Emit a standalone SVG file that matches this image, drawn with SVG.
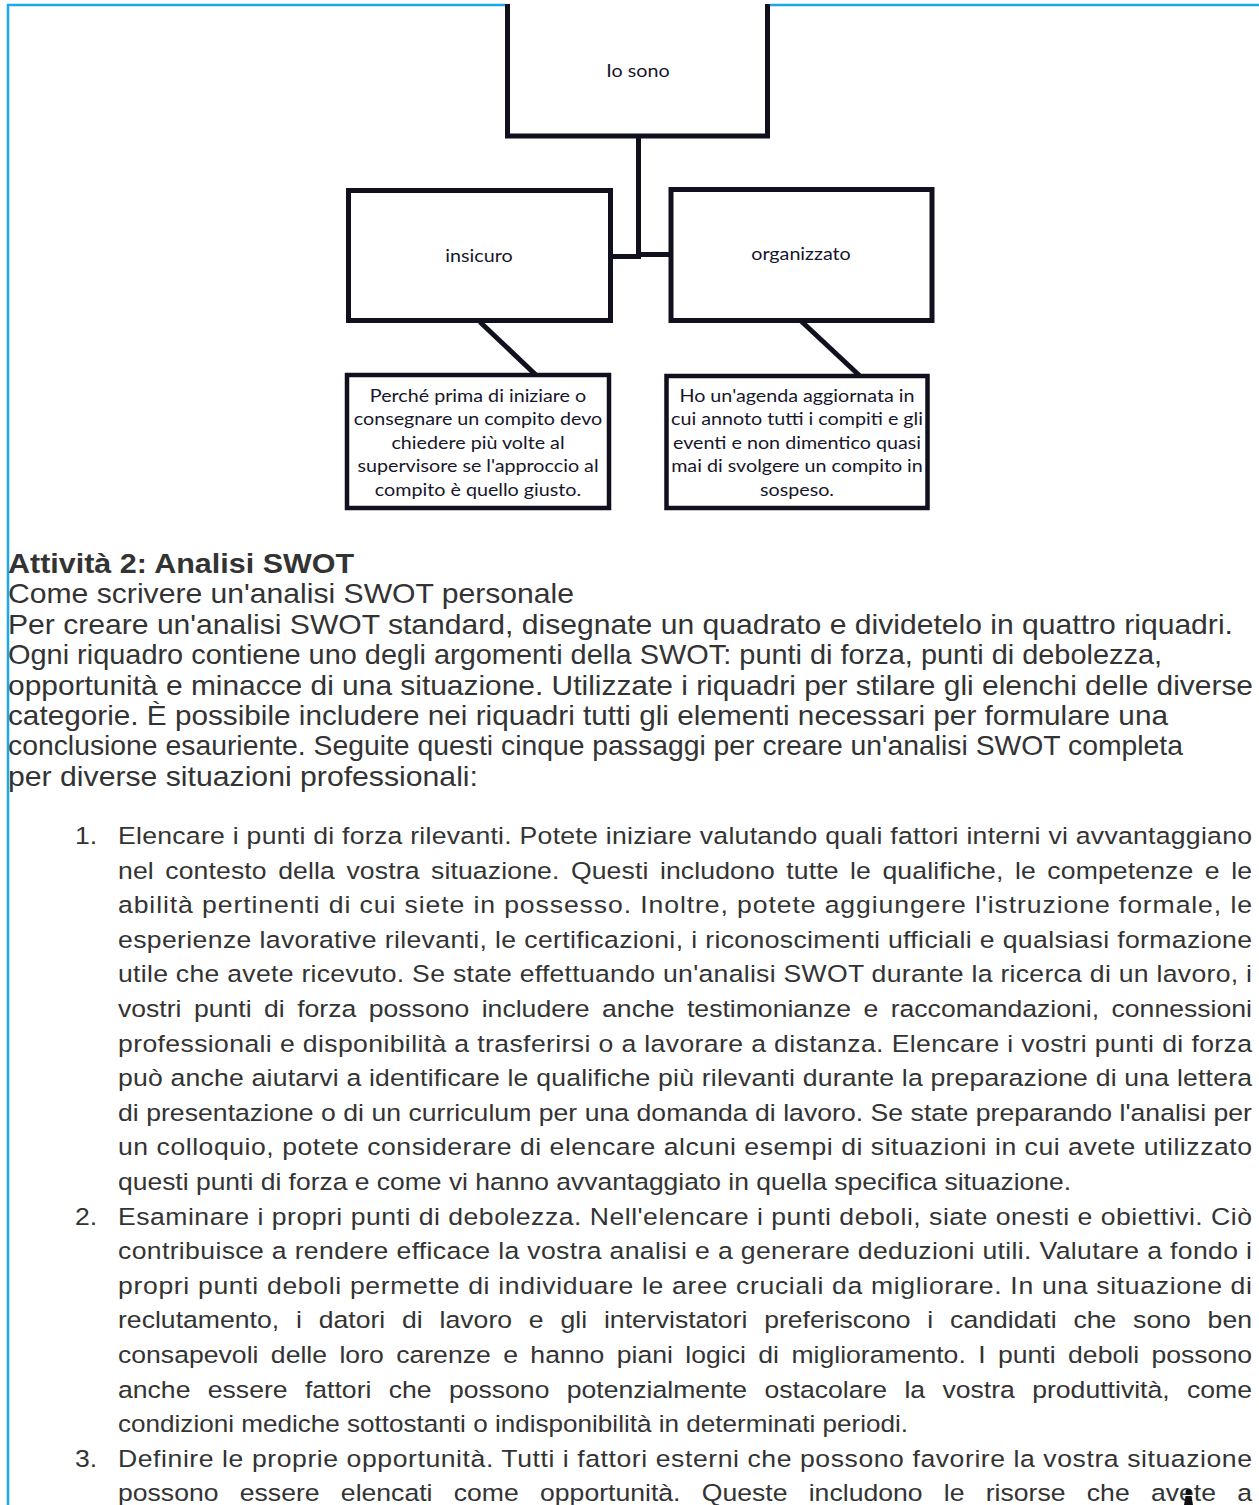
<svg xmlns="http://www.w3.org/2000/svg" width="1259" height="1505" viewBox="0 0 1259 1505">
<style>
.bg{fill:#ffffff}
.border{stroke:#1aa8ec;stroke-width:2.5;fill:none}
.bx{fill:#ffffff;stroke:#10101f;stroke-width:5}
.ln{stroke:#10101f;stroke-width:5;fill:none}
.dt{font-family:Lato,"Noto Sans",sans-serif;font-size:17.6px;fill:#16162a;text-anchor:middle}
.t{font-family:"Liberation Sans",Arial,sans-serif;fill:#333333}
.p{font-size:26.8px}
.h{font-size:27.1px;font-weight:bold}
.li{font-size:23.75px}
</style>
<rect class="bg" x="0" y="0" width="1259" height="1505"/>
<g id="page-border">
<line class="border" x1="8" y1="4" x2="8" y2="1505"/>
<line class="border" x1="7" y1="5" x2="1259" y2="5"/>
</g>
<g id="connectors">
<line class="ln" x1="638.5" y1="136" x2="638.5" y2="259"/>
<line class="ln" x1="611" y1="256.5" x2="641" y2="256.5"/>
<line class="ln" x1="636" y1="254.5" x2="670" y2="254.5"/>
<line class="ln" x1="480" y1="322" x2="537" y2="376"/>
<line class="ln" x1="800" y1="320" x2="861" y2="377"/>
</g>
<g id="node-io-sono">
<rect x="505" y="3" width="265" height="6" fill="#ffffff"/>
<path class="bx" d="M507.5,4 V136 H767.5 V4"/>
<text class="dt" transform="translate(638,76.5) scale(1.12,1)">Io sono</text>
</g>
<g id="node-insicuro">
<rect class="bx" x="348.5" y="190.5" width="262" height="130"/>
<text class="dt" transform="translate(479,261.5) scale(1.12,1)">insicuro</text>
</g>
<g id="node-organizzato">
<rect class="bx" x="671" y="189.5" width="261" height="131"/>
<text class="dt" transform="translate(801,259.5) scale(1.12,1)">organizzato</text>
</g>
<g id="node-perche">
<rect class="bx" x="347" y="375" width="262" height="133" style="stroke-width:4.5"/>
<text class="dt" transform="translate(478,401.5) scale(1.12,1)">Perché prima di iniziare o</text>
<text class="dt" transform="translate(478,425) scale(1.12,1)">consegnare un compito devo</text>
<text class="dt" transform="translate(478,448.5) scale(1.12,1)">chiedere più volte al</text>
<text class="dt" transform="translate(478,472) scale(1.12,1)">supervisore se l'approccio al</text>
<text class="dt" transform="translate(478,495.5) scale(1.12,1)">compito è quello giusto.</text>
</g>
<g id="node-agenda">
<rect class="bx" x="666.5" y="376" width="261" height="132" style="stroke-width:4.5"/>
<text class="dt" transform="translate(797,401.5) scale(1.12,1)">Ho un'agenda aggiornata in</text>
<text class="dt" transform="translate(797,425) scale(1.12,1)">cui annoto tutti i compiti e gli</text>
<text class="dt" transform="translate(797,448.5) scale(1.12,1)">eventi e non dimentico quasi</text>
<text class="dt" transform="translate(797,472) scale(1.12,1)">mai di svolgere un compito in</text>
<text class="dt" transform="translate(797,495.5) scale(1.12,1)">sospeso.</text>
</g>
<g id="intro-text" class="t">
<text class="h" transform="translate(8,573) scale(1.12,1)" textLength="309" lengthAdjust="spacingAndGlyphs">Attività 2: Analisi SWOT</text>
<text class="p" transform="translate(8,603.4) scale(1.12,1)" textLength="505.4" lengthAdjust="spacingAndGlyphs">Come scrivere un'analisi SWOT personale</text>
<text class="p" transform="translate(8,633.8) scale(1.12,1)" textLength="1093.7" lengthAdjust="spacingAndGlyphs">Per creare un'analisi SWOT standard, disegnate un quadrato e dividetelo in quattro riquadri.</text>
<text class="p" transform="translate(8,664.2) scale(1.12,1)" textLength="1030.4" lengthAdjust="spacingAndGlyphs">Ogni riquadro contiene uno degli argomenti della SWOT: punti di forza, punti di debolezza,</text>
<text class="p" transform="translate(8,694.6) scale(1.12,1)" textLength="1111.6" lengthAdjust="spacingAndGlyphs">opportunità e minacce di una situazione. Utilizzate i riquadri per stilare gli elenchi delle diverse</text>
<text class="p" transform="translate(8,725) scale(1.12,1)" textLength="1035.7" lengthAdjust="spacingAndGlyphs">categorie. È possibile includere nei riquadri tutti gli elementi necessari per formulare una</text>
<text class="p" transform="translate(8,755.4) scale(1.12,1)" textLength="1049.1" lengthAdjust="spacingAndGlyphs">conclusione esauriente. Seguite questi cinque passaggi per creare un'analisi SWOT completa</text>
<text class="p" transform="translate(8,785.8) scale(1.12,1)" textLength="419.6" lengthAdjust="spacingAndGlyphs">per diverse situazioni professionali:</text>
</g>
<g id="list-text" class="t li">
<text transform="translate(75,844) scale(1.12,1)">1.</text>
<text transform="translate(118,844) scale(1.12,1)" textLength="1012.5" lengthAdjust="spacing">Elencare i punti di forza rilevanti. Potete iniziare valutando quali fattori interni vi avvantaggiano</text>
<text transform="translate(118,878.6) scale(1.12,1)" word-spacing="3.5" textLength="1012.5" lengthAdjust="spacing">nel contesto della vostra situazione. Questi includono tutte le qualifiche, le competenze e le</text>
<text transform="translate(118,913.2) scale(1.12,1)" textLength="1012.5" lengthAdjust="spacing">abilità pertinenti di cui siete in possesso. Inoltre, potete aggiungere l'istruzione formale, le</text>
<text transform="translate(118,947.8) scale(1.12,1)" textLength="1012.5" lengthAdjust="spacing">esperienze lavorative rilevanti, le certificazioni, i riconoscimenti ufficiali e qualsiasi formazione</text>
<text transform="translate(118,982.4) scale(1.12,1)" textLength="1012.5" lengthAdjust="spacing">utile che avete ricevuto. Se state effettuando un'analisi SWOT durante la ricerca di un lavoro, i</text>
<text transform="translate(118,1017) scale(1.12,1)" word-spacing="4.49" textLength="1012.5" lengthAdjust="spacing">vostri punti di forza possono includere anche testimonianze e raccomandazioni, connessioni</text>
<text transform="translate(118,1051.6) scale(1.12,1)" textLength="1012.5" lengthAdjust="spacing">professionali e disponibilità a trasferirsi o a lavorare a distanza. Elencare i vostri punti di forza</text>
<text transform="translate(118,1086.2) scale(1.12,1)" textLength="1012.5" lengthAdjust="spacing">può anche aiutarvi a identificare le qualifiche più rilevanti durante la preparazione di una lettera</text>
<text transform="translate(118,1120.8) scale(1.12,1)" textLength="1012.5" lengthAdjust="spacing">di presentazione o di un curriculum per una domanda di lavoro. Se state preparando l'analisi per</text>
<text transform="translate(118,1155.4) scale(1.12,1)" textLength="1012.5" lengthAdjust="spacing">un colloquio, potete considerare di elencare alcuni esempi di situazioni in cui avete utilizzato</text>
<text transform="translate(118,1190) scale(1.12,1)" textLength="850.9" lengthAdjust="spacingAndGlyphs">questi punti di forza e come vi hanno avvantaggiato in quella specifica situazione.</text>
<text transform="translate(75,1224.6) scale(1.12,1)">2.</text>
<text transform="translate(118,1224.6) scale(1.12,1)" textLength="1012.5" lengthAdjust="spacing">Esaminare i propri punti di debolezza. Nell'elencare i punti deboli, siate onesti e obiettivi. Ciò</text>
<text transform="translate(118,1259.2) scale(1.12,1)" textLength="1012.5" lengthAdjust="spacing">contribuisce a rendere efficace la vostra analisi e a generare deduzioni utili. Valutare a fondo i</text>
<text transform="translate(118,1293.8) scale(1.12,1)" textLength="1012.5" lengthAdjust="spacing">propri punti deboli permette di individuare le aree cruciali da migliorare. In una situazione di</text>
<text transform="translate(118,1328.4) scale(1.12,1)" word-spacing="8.43" textLength="1012.5" lengthAdjust="spacing">reclutamento, i datori di lavoro e gli intervistatori preferiscono i candidati che sono ben</text>
<text transform="translate(118,1363) scale(1.12,1)" word-spacing="4.47" textLength="1012.5" lengthAdjust="spacing">consapevoli delle loro carenze e hanno piani logici di miglioramento. I punti deboli possono</text>
<text transform="translate(118,1397.6) scale(1.12,1)" word-spacing="8.85" textLength="1012.5" lengthAdjust="spacing">anche essere fattori che possono potenzialmente ostacolare la vostra produttività, come</text>
<text transform="translate(118,1432.2) scale(1.12,1)" textLength="705.4" lengthAdjust="spacingAndGlyphs">condizioni mediche sottostanti o indisponibilità in determinati periodi.</text>
<text transform="translate(75,1466.8) scale(1.12,1)">3.</text>
<text transform="translate(118,1466.8) scale(1.12,1)" textLength="1012.5" lengthAdjust="spacing">Definire le proprie opportunità. Tutti i fattori esterni che possono favorire la vostra situazione</text>
<text transform="translate(118,1501.4) scale(1.12,1)" word-spacing="12.36" textLength="1012.5" lengthAdjust="spacing">possono essere elencati come opportunità. Queste includono le risorse che avete a</text>
</g>
<g id="cursor-mark" fill="#111111">
<circle cx="1188.5" cy="1492" r="3"/>
<path d="M1185.5,1496 H1191.5 L1193,1505 H1184 Z"/>
</g>
</svg>
